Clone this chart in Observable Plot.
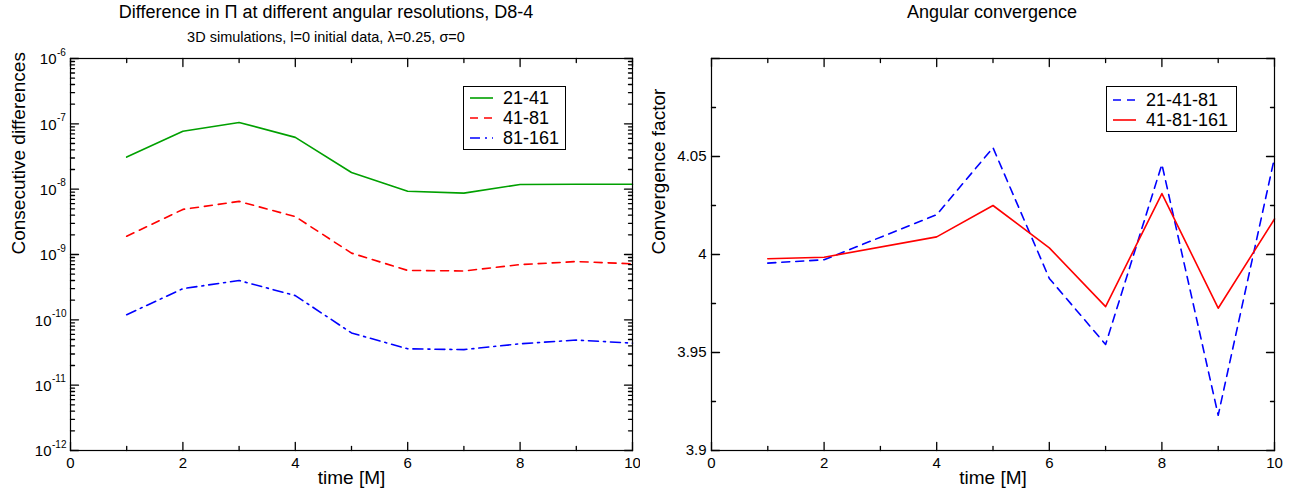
<!DOCTYPE html>
<html><head><meta charset="utf-8">
<script src="https://cdn.jsdelivr.net/npm/d3@7"></script>
<script src="https://cdn.jsdelivr.net/npm/@observablehq/plot@0.6"></script>
<style>
body{margin:0;background:#fff;font-family:"Liberation Sans",Arial,sans-serif;}
#wrap{position:relative;width:1302px;height:498px;overflow:hidden}
.panel{position:absolute;top:0;height:498px}
.title{position:absolute;text-align:center;white-space:nowrap;color:#000}
.legend{position:absolute;border:1px solid #000;background:#fff;font-size:18px;color:#000}
.legend .row{position:absolute;left:0;height:20px;line-height:20px;white-space:nowrap}
.legend svg{position:absolute;left:6px;top:0}
.legend span{position:absolute;left:39px;top:0}
</style>
</head><body>
<div id="wrap">
  <div class="panel" id="left" style="left:0;width:640px"></div>
  <div class="panel" id="right" style="left:640px;width:662px"></div>
</div>
<script>
// ---------- data ----------
const time = [1, 2, 3, 4, 5, 6, 7, 8, 9, 10];
const diff21_41  = [3.1e-8, 7.7e-8, 1.05e-7, 6.2e-8, 1.8e-8, 9.3e-9, 8.7e-9, 1.18e-8, 1.19e-8, 1.19e-8];
const diff41_81  = [1.9e-9, 4.9e-9, 6.5e-9, 3.8e-9, 1.05e-9, 5.7e-10, 5.6e-10, 7.0e-10, 7.8e-10, 7.2e-10];
const diff81_161 = [1.2e-10, 3.0e-10, 4.0e-10, 2.35e-10, 6.3e-11, 3.6e-11, 3.5e-11, 4.3e-11, 4.9e-11, 4.4e-11];

const timeConv = [1, 2, 4, 5, 6, 7, 8, 9, 10];
const conv21_41_81  = [3.9956, 3.9973, 4.0203, 4.0545, 3.9878, 3.9541, 4.0460, 3.9180, 4.0494];
const conv41_81_161 = [3.9978, 3.9986, 4.0090, 4.0250, 4.0034, 3.9734, 4.0311, 3.9726, 4.0181];

const xTicks = [0, 2, 4, 6, 8, 10];
const xMinor = [1, 3, 5, 7, 9];
const logTicks = [1e-12, 1e-11, 1e-10, 1e-9, 1e-8, 1e-7, 1e-6];
const logTickExponents = ["-12", "-11", "-10", "-9", "-8", "-7", "-6"];
const convTicks = [3.9, 3.95, 4, 4.05, 4.1];
const convTickLabels = ["3.9", "3.95", "4", "4.05", ""];
const convMinor = [3.925, 3.975, 4.025, 4.075];

const leftSeries = ["21-41", "41-81", "81-161"];
const rightSeries = ["21-41-81", "41-81-161"];

const GREEN = "#00a000", RED = "#ff0000", BLUE = "#0000ff";
const leftStyles = {"21-41": {c: GREEN, d: null}, "41-81": {c: RED, d: "8,6"}, "81-161": {c: BLUE, d: "10,5,2,5"}};
const rightStyles = {"21-41-81": {c: BLUE, d: "8,6"}, "41-81-161": {c: RED, d: null}};

const logMinor = [];
for (let e = -12; e < -6; e++) for (let m = 2; m <= 9; m++) logMinor.push(m * Math.pow(10, e));

const leftData = [];
time.forEach((t, i) => {
  leftData.push({t, v: diff21_41[i], s: "21-41"});
  leftData.push({t, v: diff41_81[i], s: "41-81"});
  leftData.push({t, v: diff81_161[i], s: "81-161"});
});
const rightData = [];
timeConv.forEach((t, i) => {
  rightData.push({t, v: conv21_41_81[i], s: "21-41-81"});
  rightData.push({t, v: conv41_81_161[i], s: "41-81-161"});
});

const MT = 58, MB = 48, H = 498;

// inward ticks on all four sides: short vectors anchored on the frame edges
const tickShape = {draw(context, l) { context.moveTo(0, 0); context.lineTo(0, -l); }};
function frameTicks(yMajor, yMinor) {
  const M = 8, m = 4;
  const o = {shape: tickShape, anchor: "start", stroke: "#000", strokeWidth: 1.3};
  return [
    Plot.vector(xTicks, {...o, x: d => d, frameAnchor: "bottom", length: M, rotate: 0}),
    Plot.vector(xTicks, {...o, x: d => d, frameAnchor: "top", length: M, rotate: 180}),
    Plot.vector(xMinor, {...o, x: d => d, frameAnchor: "bottom", length: m, rotate: 0}),
    Plot.vector(xMinor, {...o, x: d => d, frameAnchor: "top", length: m, rotate: 180}),
    Plot.vector(yMajor, {...o, y: d => d, frameAnchor: "left", length: M, rotate: 90}),
    Plot.vector(yMajor, {...o, y: d => d, frameAnchor: "right", length: M, rotate: -90}),
    Plot.vector(yMinor, {...o, y: d => d, frameAnchor: "left", length: m, rotate: 90}),
    Plot.vector(yMinor, {...o, y: d => d, frameAnchor: "right", length: m, rotate: -90})
  ];
}

function seriesLines(data, names, styles) {
  return names.map(n => Plot.line(data.filter(d => d.s === n), {
    x: "t", y: "v", stroke: styles[n].c, strokeWidth: 1.6, strokeDasharray: styles[n].d
  }));
}

const shortExp = logTicks.filter((d, i) => logTickExponents[i].length === 2);
const longExp = logTicks.filter((d, i) => logTickExponents[i].length === 3);
const expOf = d => logTickExponents[logTicks.indexOf(d)];

// ---------- left plot ----------
const LW = 640, LML = 70, LMR = 8;
const left = Plot.plot({
  width: LW, height: H,
  marginLeft: LML, marginRight: LMR, marginTop: MT, marginBottom: MB,
  style: {fontFamily: "Liberation Sans, Arial, sans-serif", fontSize: "15px", background: "#fff", overflow: "visible"},
  x: {domain: [0, 10], axis: null},
  y: {type: "log", domain: [1e-12, 1e-6], axis: null},
  marks: [
    ...seriesLines(leftData, leftSeries, leftStyles),
    ...frameTicks(logTicks, logMinor),
    Plot.axisX({ticks: xTicks, tickSize: 0, tickPadding: 7, label: null, fontSize: 15, tickFormat: d => String(d)}),
    Plot.text(shortExp, {y: d => d, frameAnchor: "left", text: () => "10", textAnchor: "end", dx: -14, dy: 1, fontSize: 15}),
    Plot.text(longExp, {y: d => d, frameAnchor: "left", text: () => "10", textAnchor: "end", dx: -19, dy: 1, fontSize: 15}),
    Plot.text(shortExp, {y: d => d, frameAnchor: "left", text: expOf, textAnchor: "start", dx: -13.5, dy: -6, fontSize: 10}),
    Plot.text(longExp, {y: d => d, frameAnchor: "left", text: expOf, textAnchor: "start", dx: -18.5, dy: -6, fontSize: 10}),
    Plot.frame({stroke: "#000", strokeWidth: 1.2, fill: "none"}),
    Plot.text(["Consecutive differences"], {frameAnchor: "left", rotate: -90, dx: -52, fontSize: 19}),
    Plot.text(["time [M]"], {frameAnchor: "bottom", dy: 33, fontSize: 19})
  ]
});
document.getElementById("left").appendChild(left);

// ---------- right plot ----------
const RW = 662, RML = 71, RMR = 28;
const right = Plot.plot({
  width: RW, height: H,
  marginLeft: RML, marginRight: RMR, marginTop: MT, marginBottom: MB,
  style: {fontFamily: "Liberation Sans, Arial, sans-serif", fontSize: "15px", background: "#fff", overflow: "visible"},
  x: {domain: [0, 10], axis: null},
  y: {domain: [3.9, 4.1], axis: null},
  marks: [
    ...seriesLines(rightData, rightSeries, rightStyles),
    ...frameTicks(convTicks, convMinor),
    Plot.axisX({ticks: xTicks, tickSize: 0, tickPadding: 7, label: null, fontSize: 15, tickFormat: d => String(d)}),
    Plot.axisY({ticks: convTicks, tickSize: 0, tickPadding: 5, label: null, fontSize: 15,
      tickFormat: d => convTickLabels[convTicks.indexOf(d)]}),
    Plot.frame({stroke: "#000", strokeWidth: 1.2, fill: "none"}),
    Plot.text(["Convergence factor"], {frameAnchor: "left", rotate: -90, dx: -53, fontSize: 19}),
    Plot.text(["time [M]"], {frameAnchor: "bottom", dy: 33, fontSize: 19})
  ]
});
document.getElementById("right").appendChild(right);

// ---------- titles ----------
function addTitle(parent, text, centerX, top, size) {
  const d = document.createElement("div");
  d.className = "title";
  d.textContent = text;
  d.style.fontSize = size + "px";
  d.style.top = top + "px";
  d.style.left = (centerX - 400) + "px";
  d.style.width = "800px";
  parent.appendChild(d);
}
const wrap = document.getElementById("wrap");
addTitle(wrap, "Difference in Π at different angular resolutions, D8-4", 326, 2, 18);
addTitle(wrap, "3D simulations, l=0 initial data, λ=0.25, σ=0", 326, 29, 14.5);
addTitle(wrap, "Angular convergence", 992, 2, 18);

// ---------- legends ----------
function addLegend(names, styles, x, y, w, h, rowTops) {
  const box = document.createElement("div");
  box.className = "legend";
  box.style.left = x + "px"; box.style.top = y + "px";
  box.style.width = w + "px"; box.style.height = h + "px";
  names.forEach((n, i) => {
    const row = document.createElement("div");
    row.className = "row";
    row.style.top = rowTops[i] + "px";
    row.style.width = w + "px";
    const svg = d3.create("svg").attr("width", 26).attr("height", 20);
    svg.append("line").attr("x1", 0).attr("x2", 23).attr("y1", 10).attr("y2", 10)
      .attr("stroke", styles[n].c).attr("stroke-width", 1.6)
      .attr("stroke-dasharray", styles[n].d);
    row.appendChild(svg.node());
    const s = document.createElement("span");
    s.textContent = n;
    row.appendChild(s);
    box.appendChild(row);
  });
  wrap.appendChild(box);
}
addLegend(leftSeries, leftStyles, 463, 86, 101, 62, [1, 21, 41]);
addLegend(rightSeries, rightStyles, 1106, 86, 129, 44, [3, 23]);
</script>
</body></html>
